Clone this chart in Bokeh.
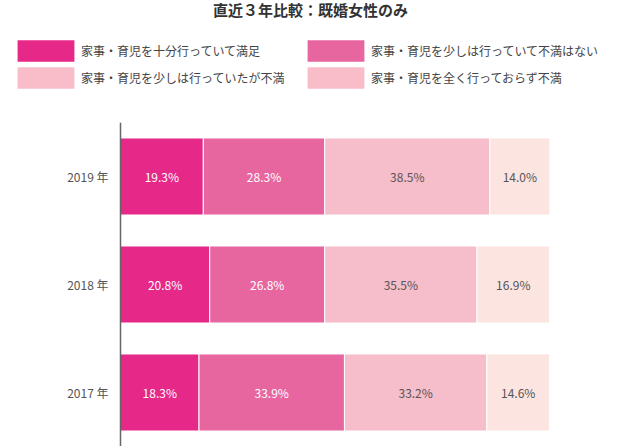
from bokeh.plotting import figure
from bokeh.layouts import column
from bokeh.models import ColumnDataSource, FactorRange, Range1d, Legend, LegendItem, Label, Span
from bokeh.core.properties import value
from bokeh.embed import file_html
from bokeh.resources import INLINE
import numpy as np

# ---- data ----
title_text = "直近３年比較：既婚女性のみ"
years = ["2017 年", "2018 年", "2019 年"]
series_names = [
    "家事・育児を十分行っていて満足",
    "家事・育児を少しは行っていて不満はない",
    "家事・育児を少しは行っていたが不満",
    "家事・育児を全く行っておらず不満",
]
satisfied = [18.3, 20.8, 19.3]
no_complaint = [33.9, 26.8, 28.3]
some_complaint = [33.2, 35.5, 38.5]
none_complaint = [14.6, 16.9, 14.0]
series_values = [satisfied, no_complaint, some_complaint, none_complaint]

bar_colors = ["#E62888", "#E866A0", "#F6BDCA", "#FCE4E0"]
legend_colors = ["#E62888", "#E866A0", "#F8BDC9", "#F8BDC9"]
label_colors = ["#FFFFFF", "#FFFFFF", "#555555", "#555555"]

FONT = "Noto Sans CJK JP"

W = 620
HEAD_H = 122
CHART_H = 446 - HEAD_H
LEFT = 120
px_per_pct = 429.0 / 100.0

# ---------- header: title + legend ----------
head = figure(
    width=W, height=HEAD_H, x_range=Range1d(0, 1), y_range=Range1d(0, 1),
    output_backend="svg", toolbar_location=None, title=None,
    min_border=0, min_border_left=0, min_border_right=0,
    min_border_top=0, min_border_bottom=0,
)
head.axis.visible = False
head.grid.visible = False
head.outline_line_color = None

# hidden renderers that only supply the legend swatches
leg_renderers = []
for i, name in enumerate(series_names):
    r = head.hbar(y=[0.5], left=[0], right=[series_values[i][-1]], height=0.5,
                  fill_color=legend_colors[i], line_color=None, visible=False)
    leg_renderers.append(r)

def make_legend(idx, x, y):
    lg = Legend(
        items=[LegendItem(label=series_names[j], renderers=[leg_renderers[j]]) for j in idx],
        location=(x, y), orientation="vertical",
        glyph_width=71, glyph_height=27, label_height=27,
        label_standoff=0, spacing=0, padding=0, margin=0,
        border_line_color=None, background_fill_alpha=0,
        inactive_fill_alpha=0,
        label_text_font=FONT, label_text_font_size="12px",
        label_text_color="#444444",
    )
    head.add_layout(lg, "center")

make_legend([0, 2], 10, 31)
make_legend([1, 3], 300, 31)

head.add_layout(Label(
    x=310, y=HEAD_H - 9, x_units="screen", y_units="screen",
    text=title_text, text_align="center", text_baseline="middle",
    text_font=FONT, text_font_size="15px", text_font_style="bold",
    text_color="#333333",
))

# ---------- chart ----------
p = figure(
    width=W, height=CHART_H,
    y_range=FactorRange(factors=years, range_padding=0),
    x_range=Range1d(-LEFT / px_per_pct, (W - LEFT) / px_per_pct),
    output_backend="svg", toolbar_location=None, title=None,
    min_border=0, min_border_left=0, min_border_top=0,
    min_border_right=0, min_border_bottom=0,
)
p.outline_line_color = None
p.grid.visible = False
p.axis.visible = False

# category axis line at the bars' origin
p.add_layout(Span(location=0, dimension="height",
                  line_color="#666666", line_width=1.5))

lefts = np.zeros(len(years))
for i, vals in enumerate(series_values):
    vals = np.array(vals)
    rights = lefts + vals
    src = ColumnDataSource(dict(
        y=years, left=lefts, right=rights,
        mid=(lefts + rights) / 2,
        lab=[f"{v:.1f}%" for v in vals],
    ))
    p.hbar(y="y", left="left", right="right", height=0.713, source=src,
           fill_color=bar_colors[i], line_color="white", line_width=1)
    p.text(x="mid", y="y", text="lab", source=src,
           text_align="center", text_baseline="middle",
           text_font=value(FONT), text_font_size="12px",
           text_color=label_colors[i])
    lefts = rights

# category (year) labels
p.text(x=np.zeros(len(years)), y=years, text=years, x_offset=-12,
       text_align="right", text_baseline="middle",
       text_font=value(FONT), text_font_size="12px", text_color="#555555")

layout = column(head, p, spacing=0)
open("out.html", "w").write(file_html(layout, INLINE))
